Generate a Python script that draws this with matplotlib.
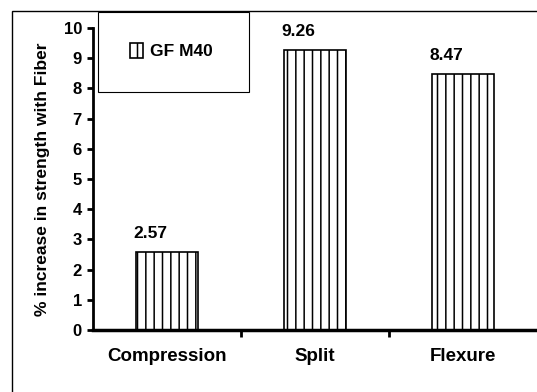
import matplotlib
matplotlib.use("Agg")
import matplotlib.pyplot as plt
from matplotlib.patches import Rectangle

# data
categories = ["Compression", "Split", "Flexure"]
values = [2.57, 9.26, 8.47]
series_name = "GF M40"
y_ticks = list(range(0, 11))

plt.rcParams['font.family'] = ['Liberation Sans', 'DejaVu Sans']
plt.rcParams['font.weight'] = 'bold'
plt.rcParams['hatch.linewidth'] = 1.1

fig = plt.figure(figsize=(5.37, 3.92), dpi=100)
ax = fig.add_axes([93/537, 62/392, 444/537, 302/392])

x = list(range(len(categories)))
bars = ax.bar(x, values, width=0.42, color="white", edgecolor="black",
              linewidth=1.2, hatch="||", label=series_name)

for xi, v in zip(x, values):
    ax.annotate(f"{v:.2f}", (xi, v), xytext=(-12, 8), textcoords="offset points",
                ha="center", va="bottom", fontsize=12.5, fontweight="bold")

ax.set_xlim(-0.5, 2.5)
ax.set_ylim(0, 10)
ax.set_yticks(y_ticks)
ax.set_yticklabels([str(t) for t in y_ticks], fontsize=12, fontweight="bold")
ax.set_xticks([0.5, 1.5])
ax.set_xticklabels([])
ax.set_xticks(x, minor=True)
ax.set_xticklabels(categories, minor=True, fontsize=13.5, fontweight="bold")
ax.tick_params(axis="x", which="minor", length=0, pad=13)
ax.tick_params(axis="x", which="major", length=5, width=2, direction="out")
ax.tick_params(axis="y", length=4, width=2, direction="out", pad=4)

for s in ["top", "right"]:
    ax.spines[s].set_visible(False)
ax.spines["left"].set_linewidth(2)
ax.spines["bottom"].set_linewidth(2.5)

ax.set_ylabel("% increase in strength with Fiber", fontsize=12.5,
              fontweight="bold", labelpad=10)

# outer chart frame
fig.patches.append(Rectangle((12/537, -0.1), 1.0, 1 - 11/392 + 0.1,
                             transform=fig.transFigure, fill=False,
                             edgecolor="black", linewidth=1))

# legend box
lx0, ly0, lw, lh = 98/537, 1 - 92/392, 151/537, 80/392
fig.patches.append(Rectangle((lx0, ly0), lw, lh, transform=fig.transFigure,
                             facecolor="white", edgecolor="black", linewidth=0.8,
                             zorder=5))
leg = fig.legend(handles=[bars], labels=[series_name], loc="center",
                 bbox_to_anchor=(lx0 + lw/2 - 0.004, ly0 + lh/2 + 0.002),
                 frameon=False, handlelength=0.7,
                 handleheight=0.9, handletextpad=0.4,
                 prop={"weight": "bold", "size": 12.5})
leg.set_zorder(6)

fig.savefig("out.png", dpi=100)
